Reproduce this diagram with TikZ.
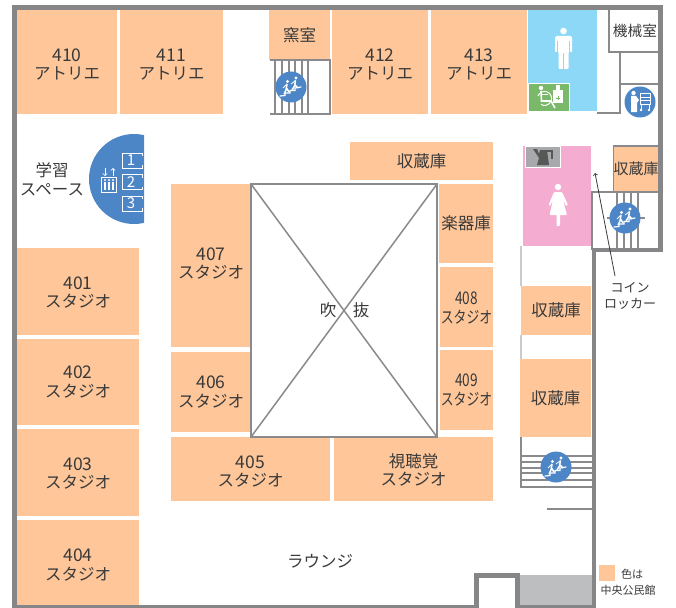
\documentclass[tikz,border=0pt]{standalone}
\usepackage{fontspec}
\setmainfont{Noto Sans CJK JP}
\usepackage{xcolor}
\usetikzlibrary{arrows,calc}
\definecolor{roomc}{HTML}{FEC699}
\definecolor{wallc}{HTML}{868688}
\definecolor{linec}{HTML}{8A8A8C}
\definecolor{inkc}{HTML}{3A3A3A}
\definecolor{signc}{HTML}{4D86C6}
\definecolor{menc}{HTML}{8DD7F7}
\definecolor{womenc}{HTML}{F4ACD0}
\definecolor{accessc}{HTML}{7AB86A}
\definecolor{floorc}{HTML}{BCBEC0}
\definecolor{servicec}{HTML}{A7A9AC}
\tikzset{
  room/.style={fill=roomc, text=inkc, inner sep=0pt, align=center, font=\fontsize{16.5}{18.5}\selectfont},
  caption/.style={text=inkc, inner sep=0pt, align=center, font=\fontsize{16.5}{18.5}\selectfont},
  smallcap/.style={text=inkc, inner sep=0pt, align=center, font=\fontsize{13}{16}\selectfont},
  tinycap/.style={text=inkc, inner sep=0pt, font=\fontsize{11}{11}\selectfont},
  wall/.style={wallc, line width=4.7pt},
  partition/.style={linec, line width=1.5pt},
  tread/.style={linec, line width=1.3pt}
}
\newcommand{\rnum}[1]{\rule{0pt}{18pt}{\fontsize{17.5}{18.5}\selectfont #1}}
\newcommand{\rtight}[1]{\scalebox{0.78}[1]{#1}}
\newcommand{\rup}[1]{\rule[-#1pt]{0pt}{0pt}}
\begin{document}
\begin{tikzpicture}[x=1pt,y=-1pt]
\useasboundingbox (0,0) rectangle (676,607);

% coloured areas
\fill [menc] (528,10) rectangle (597,111);
\fill [womenc] (523,146) rectangle (591,246);
\fill [floorc] (520,575) rectangle (592,605);
\fill [accessc, draw=white, line width=0.8pt] (528.5,83) rectangle (569.5,111);
\fill [servicec, draw=white, line width=0.8pt] (525,146) rectangle (560,167);

% rooms
\node [room, minimum width=100pt, minimum height=104pt] (r410) at (67,62) {\rnum{410}\\アトリエ};
\node [room, minimum width=103pt, minimum height=104pt] (r411) at (171.5,62) {\rnum{411}\\アトリエ};
\node [room, minimum width=61pt, minimum height=50pt] (kiln) at (299.5,35) {窯室};
\node [room, minimum width=96pt, minimum height=104pt] (r412) at (380,62) {\rnum{412}\\アトリエ};
\node [room, minimum width=96pt, minimum height=104pt] (r413) at (479,62) {\rnum{413}\\アトリエ};
\node [room, minimum width=143pt, minimum height=38pt] (store1) at (421.5,161) {収蔵庫};
\node [room, minimum width=44pt, minimum height=46pt, draw=linec, line width=1.2pt] (store2) at (636,169) {\fontsize{15}{18}\selectfont 収蔵庫};
\node [room, minimum width=80pt, minimum height=163pt] (r407) at (211,265.5) {\rnum{407}\\スタジオ\rup{10}};
\node [room, minimum width=80pt, minimum height=80pt] (r406) at (211,392) {\rnum{406}\\スタジオ\rup{6}};
\node [room, minimum width=159pt, minimum height=64pt] (r405) at (250.5,469) {\rnum{405}\\スタジオ};
\node [room, minimum width=159pt, minimum height=64pt] (av) at (413.5,469) {\rule{0pt}{16pt}視聴覚\\スタジオ};
\node [room, minimum width=54pt, minimum height=79pt] (music) at (466,223.5) {楽器庫};
\node [room, minimum width=53pt, minimum height=80pt] (r408) at (466.5,307) {\rnum{\rtight{408}}\\\rtight{スタジオ}\rup{4}};
\node [room, minimum width=53pt, minimum height=80pt] (r409) at (466.5,390) {\rnum{\rtight{409}}\\\rtight{スタジオ}\rup{6}};
\node [room, minimum width=70pt, minimum height=49pt] (store3) at (556,310.5) {収蔵庫};
\node [room, minimum width=71pt, minimum height=78pt] (store4) at (555.5,398) {収蔵庫};
\node [room, minimum width=122pt, minimum height=87pt] (r401) at (78,291.5) {\rnum{401}\\スタジオ\rup{4}};
\node [room, minimum width=122pt, minimum height=86pt] (r402) at (78,382) {\rnum{402}\\スタジオ\rup{6}};
\node [room, minimum width=122pt, minimum height=87pt] (r403) at (78,472.5) {\rnum{403}\\スタジオ\rup{4}};
\node [room, minimum width=122pt, minimum height=85pt] (r404) at (78,562.5) {\rnum{404}\\スタジオ};

% void
\draw [partition] (251,184) rectangle (437,437);
\draw [partition] (251,184) -- (437,437);
\draw [partition] (437,184) -- (251,437);
\node [caption] (void1) at (328,310) {吹};
\node [caption] (void2) at (361,310) {抜};

% thin partitions
\draw [partition] (609,7) -- (609,52) -- (658,52);
\draw [partition] (620,52) -- (620,113) -- (597,113);
\draw [partition] (620,84) -- (658,84);
\draw [partition] (614,192) -- (592,192) -- (592,250);
\draw [partition] (607,218) -- (645,218);
\foreach \x in {617,624,631,638}
  \draw [tread] (\x,192) -- (\x,248);
\draw [servicec!60, line width=1.5pt] (521,246) -- (521,286);
\draw [servicec!60, line width=1.5pt] (521,335) -- (521,359);
\draw [partition] (521,437) -- (521,487) -- (592,487);
\foreach \y in {456,462,468,473,480}
  \draw [tread] (521,\y) -- (592,\y);
\draw [partition] (547,509) -- (592,509);
\draw [partition] (270,60) -- (330,60) -- (330,114) -- (270,114);
\foreach \x in {275,282,289,295,302,308}
  \draw [tread] (\x,60) -- (\x,114);

% outer walls
\draw [wall] (14.5,607) -- (14.5,7.5) -- (660.5,7.5) -- (660.5,250) -- (594,250) -- (594,607) -- (517.5,607) -- (517.5,575.5) -- (476.5,575.5) -- (476.5,607) -- (12,607);

% blue signs
\foreach \x/\y in {291/87,625/218,556/467,640/102}
  \fill [signc] (\x,\y) circle (15.5);
\foreach \x/\y in {291/87,625/218,556/467} {
  \begin{scope}[shift={(\x,\y)}]
    \draw [white, line width=1.2pt, line cap=round] (-11,9) -- (-6,8.5) -- (-6,6) -- (-1,6) -- (-1,3.5) -- (4,3.5) -- (4,1) -- (10,0);
    \fill [white] (-3.5,-5.5) circle (1.6) (5,-9) circle (1.6);
    \draw [white, line width=1.5pt] (-4,-3) -- (-5,3) -- (-7,7) (-4.5,1) -- (-2,5);
    \draw [white, line width=1.5pt] (4.5,-6.5) -- (3.5,-1) -- (1,3) (4,-2) -- (7,1);
    \draw [white, line width=0.8pt] (-4,-3) -- (-8,1) (4.5,-6.5) -- (0,-3);
  \end{scope}
}
\begin{scope}[shift={(640,102)}]
  \fill [white] (-6.5,-9) circle (2.2);
  \fill [white] (-9,-6) -- (-4,-6) -- (-1,-2) -- (-3,1) -- (-3,10) -- (-9,10) -- cycle;
  \draw [white, line width=1pt] (0,-8) rectangle (10,2) (0,-4) -- (10,-4) (0,-1) -- (10,-1) (1,2) -- (1,9) (9,2) -- (9,9);
  \fill [white] (1,8) circle (1.3) (9,8) circle (1.3);
\end{scope}

% lift
\begin{scope}
  \clip (80,125) rectangle (144,230);
  \fill [signc] (134,179) circle (45);
\end{scope}
\foreach \y/\n in {153/1,174.5/2,196/3} {
  \draw [white, line width=1pt] (142,\y+3) -- (142,\y) -- (122,\y) -- (122,\y+15) -- (142,\y+15) -- (142,\y+12);
  \node [text=white, inner sep=0pt, font=\fontsize{15}{15}\selectfont] (lift\n) at (131,\y+7.5) {\n};
}
\draw [white, line width=1pt] (101.5,177) rectangle (116.5,192);
\foreach \x in {105,109,113} {
  \fill [white] (\x,180) circle (1.2);
  \fill [white] (\x-1.3,182) rectangle (\x+1.3,190);
}
\draw [white, line width=0.8pt, ->] (105,168) -- (105,176);
\draw [white, line width=0.8pt, ->] (113,176) -- (113,168);

% men
\fill [white] (563.5,31) circle (3.3);
\fill [white, rounded corners=1.5pt] (555,36) rectangle (572,53);
\fill [white, rounded corners=1pt] (558.5,45) rectangle (568.5,69);
\draw [menc, line width=0.7pt] (557.7,41) -- (557.7,53) (569.3,41) -- (569.3,53) (563.5,53) -- (563.5,70);
\fill [menc] (555,52) rectangle (558,54) (569,52) rectangle (572,54);
% women
\fill [white] (558,187) circle (3.2);
\fill [white, rounded corners=1pt] (554,192) -- (562,192) -- (568,205) -- (566,206) -- (563,200) -- (567,215) -- (549.5,215) -- (553,200) -- (550,206) -- (548.5,205) -- cycle;
\fill [white, rounded corners=0.8pt] (556.5,214) rectangle (560,226);
% wheelchair
\fill [white] (541,88) circle (2.2);
\draw [white, line width=1.6pt] (541,91) -- (541.5,101) -- (551,101) -- (555,108);
\draw [white, line width=1pt] (541,95) -- (548,95);
\draw [white, line width=1pt] (538,96) arc (200:480:7);
\fill [white] (553,90) rectangle (563,103);
\fill [white] (556,85) rectangle (560,90);
\draw [accessc, line width=0.7pt] (556,98) -- (560,98) (558,96) -- (558,100);
% kettle
\fill [inkc!85] (533,149) -- (537,149) -- (539,154) -- (540,150) -- (547,150) -- (549,165) -- (537,165) -- (539,158) -- cycle;
\draw [inkc!85, line width=1.5pt] (546,151) -- (552,151) -- (552,159);

% labels
\node [caption] (study) at (52,179) {学習\\スペース};
\node [caption] (lounge) at (320,561) {ラウンジ};
\node [smallcap] (locker) at (630,296) {コイン\\ロッカー};
\coordinate (lockerfoot) at (615,276);
\coordinate (lockertip) at (595,173);
\draw [inkc, line width=0.8pt, ->] (lockerfoot) -- (lockertip);

% machine room
\node [text=inkc, inner sep=0pt, font=\fontsize{14.7}{14.7}\selectfont] (machine) at (635,31) {機械室};

% legend
\fill [roomc] (599,565) rectangle (615,581);
\node [tinycap] (legend1) at (632,574) {色は};
\node [tinycap] (legend2) at (628,590) {中央公民館};
\end{tikzpicture}
\end{document}
